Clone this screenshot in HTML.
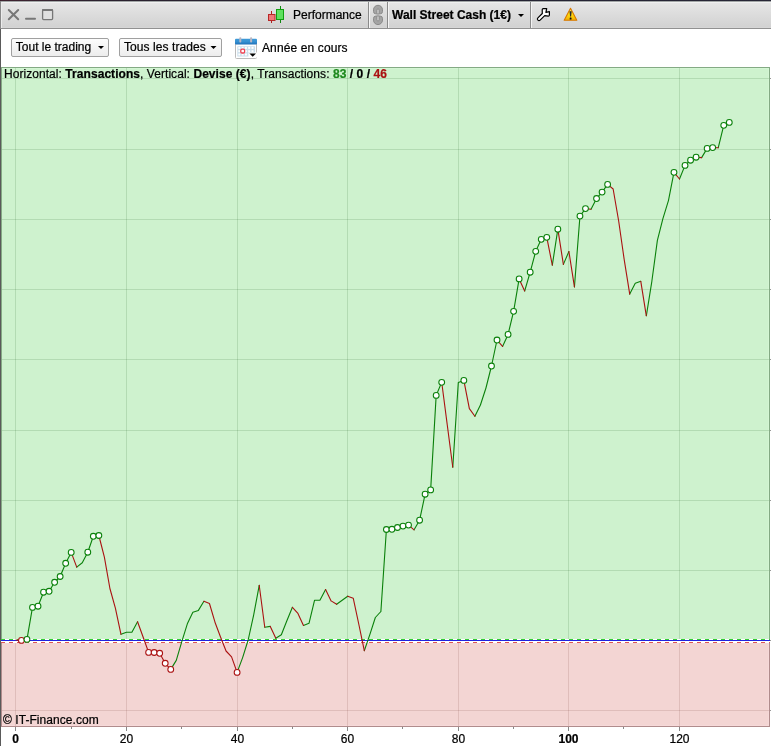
<!DOCTYPE html>
<html><head><meta charset="utf-8"><style>
html,body{margin:0;padding:0;}
body{width:771px;height:746px;overflow:hidden;background:#fff;position:relative;font-family:"Liberation Sans",Arial,sans-serif;}
svg{position:absolute;left:0;top:0;}
text{font-family:"Liberation Sans",Arial,sans-serif;fill:#000;stroke:#000;stroke-width:0.22px;}
</style></head><body>
<svg width="771" height="746" viewBox="0 0 771 746">
<defs>
<linearGradient id="tb" x1="0" y1="0" x2="0" y2="1">
<stop offset="0" stop-color="#e8e8e8"/><stop offset="1" stop-color="#d0d0d0"/>
</linearGradient>
<linearGradient id="topline" x1="0" y1="0" x2="771" y2="0" gradientUnits="userSpaceOnUse">
<stop offset="0" stop-color="#402330"/><stop offset="0.13" stop-color="#2a212e"/><stop offset="0.5" stop-color="#232130"/><stop offset="1" stop-color="#272636"/>
</linearGradient>
<linearGradient id="warn" x1="0" y1="0" x2="0" y2="1">
<stop offset="0" stop-color="#ffe070"/><stop offset="0.45" stop-color="#ffe010"/><stop offset="1" stop-color="#f2b000"/>
</linearGradient>
<linearGradient id="calhead" x1="0" y1="0" x2="0" y2="1">
<stop offset="0" stop-color="#3f9ad8"/><stop offset="0.5" stop-color="#3590d2"/><stop offset="1" stop-color="#1f6fb6"/>
</linearGradient>
<linearGradient id="btn" x1="0" y1="0" x2="0" y2="1">
<stop offset="0" stop-color="#fdfdfd"/><stop offset="1" stop-color="#ececec"/>
</linearGradient>
</defs>
<!-- title bar -->
<rect x="0" y="0" width="771" height="29" fill="url(#tb)"/>
<rect x="0" y="0" width="771" height="1" fill="url(#topline)"/>
<rect x="0" y="1" width="771" height="1" fill="#a2a6a6"/>
<rect x="1" y="2" width="770" height="1" fill="#f0f0f0"/>
<rect x="0" y="27" width="771" height="1" fill="#d6d6d6"/><rect x="0" y="28" width="771" height="1" fill="#919191"/>
<!-- window controls -->
<g stroke="#777" stroke-width="2" fill="none" stroke-linecap="round">
<path d="M8.8 10L18.2 19.2M18.2 10L8.8 19.2"/>
<path d="M26 18.7H35"/>
</g>
<rect x="42.6" y="9.6" width="10" height="10" rx="1" fill="#e0e0e0" stroke="#777" stroke-width="1.3"/>
<rect x="42" y="9" width="11" height="2" rx="0.8" fill="#777"/>
<!-- candles -->
<g>
<rect x="271" y="11" width="1" height="12" fill="#b02020"/>
<rect x="268.5" y="14.5" width="6.5" height="6" fill="#f07878" stroke="#b82828"/>
<rect x="280" y="6" width="1" height="17" fill="#108810"/>
<rect x="276.5" y="9.5" width="7" height="10" fill="#5ee05e" stroke="#10a010"/>
</g>
<text x="293" y="19" font-size="12">Performance</text>
<!-- separators -->
<rect x="368" y="2" width="1" height="26" fill="#8a8a8a"/><rect x="369" y="2" width="1" height="26" fill="#f4f4f4"/>
<rect x="387" y="2" width="1" height="26" fill="#8a8a8a"/><rect x="388" y="2" width="1" height="26" fill="#f4f4f4"/>
<rect x="530" y="2" width="1" height="26" fill="#8a8a8a"/><rect x="531" y="2" width="1" height="26" fill="#f4f4f4"/>
<!-- link icon -->
<g stroke="#8a8a8a" stroke-width="1" fill="#a4a4a4">
<path d="M373.5 11.5V9.8a4.5 4.5 0 0 1 9 0V11.5a2.3 2.3 0 0 1 -2.3 2.3H375.8a2.3 2.3 0 0 1 -2.3 -2.3Z"/>
<path d="M373.5 18.4V20.1a4.5 4.5 0 0 0 9 0V18.4a2.3 2.3 0 0 0 -2.3 -2.3H375.8a2.3 2.3 0 0 0 -2.3 2.3Z"/>
</g>
<g stroke="#8c8c8c" stroke-width="0.9" fill="#c6c6c6">
<path d="M376.7 13.9V10.2a1.3 1.3 0 0 1 2.6 0V13.9Z"/>
<path d="M376.7 16V19.7a1.3 1.3 0 0 0 2.6 0V16Z"/>
</g>
<text x="392" y="19" font-size="12" font-weight="bold">Wall Street Cash (1€)</text>
<path d="M518 14h6l-3 3z" fill="#000"/>
<!-- wrench -->
<path d="M537.9 17.9L542.3 13.5L542.2 9.7Q542.2 8.6 543.3 8.6L546.7 8.6L545.9 12.3L549.4 11.6L549.4 15.1Q549.4 16.2 548.3 16.2L544.7 15.6L540.1 20.1A1.55 1.55 0 0 1 537.9 17.9Z" fill="#fff" stroke="#000" stroke-width="1.2" stroke-linejoin="round"/>
<!-- warning -->
<path d="M570.5 8.2L576.8 20.3H564.2Z" fill="url(#warn)" stroke="#d87800" stroke-width="1.1" stroke-linejoin="round"/>
<path d="M569.5 11.2H571.7L571.1 16.4H570.1Z" fill="#2a2a2a"/>
<rect x="569.7" y="17.6" width="1.8" height="2" rx="0.4" fill="#111"/>
<!-- toolbar -->
<rect x="11.5" y="38.5" width="97" height="18" rx="1.5" fill="url(#btn)" stroke="#a0a0a0"/>
<text x="15.8" y="51" font-size="12">Tout le trading</text>
<path d="M98 46h6l-3 3z" fill="#000"/>
<rect x="119.5" y="38.5" width="102" height="18" rx="1.5" fill="url(#btn)" stroke="#a0a0a0"/>
<text x="124" y="51" font-size="12" letter-spacing="0.08">Tous les trades</text>
<path d="M210.5 46h6l-3 3z" fill="#000"/>
<!-- calendar -->
<g>
<rect x="235.5" y="42.5" width="21" height="16" rx="1" fill="#fff" stroke="#bcbcbc"/>
<rect x="235" y="38.8" width="22" height="5.8" rx="1" fill="url(#calhead)"/>
<rect x="237.3" y="46.2" width="17.8" height="10.2" rx="0.5" fill="#cadeeb"/>
<g fill="#fff">
<rect x="238.3" y="46.9" width="2" height="2"/><rect x="241.6" y="46.9" width="2" height="2"/><rect x="244.9" y="46.9" width="2" height="2"/><rect x="248.2" y="46.9" width="2" height="2"/><rect x="251.5" y="46.9" width="2" height="2"/><rect x="238.3" y="50.2" width="2" height="2"/><rect x="241.6" y="50.2" width="2" height="2"/><rect x="244.9" y="50.2" width="2" height="2"/><rect x="248.2" y="50.2" width="2" height="2"/><rect x="251.5" y="50.2" width="2" height="2"/><rect x="238.3" y="53.5" width="2" height="2"/><rect x="241.6" y="53.5" width="2" height="2"/><rect x="244.9" y="53.5" width="2" height="2"/>
</g>
<rect x="240.8" y="49.2" width="3.8" height="3.8" rx="1.3" fill="#fff" stroke="#f04050" stroke-width="1.3"/>
<rect x="239.3" y="37.3" width="2" height="5.2" rx="0.8" fill="#bab6c2"/><rect x="250.1" y="37.3" width="2" height="5.2" rx="0.8" fill="#bab6c2"/>
<path d="M248.4 52.5H257V57.5H248.4Z" fill="#fff"/>
<path d="M249.4 53.5h6.6l-3.3 3.3z" fill="#000"/>
</g>
<text x="262" y="52" font-size="12" letter-spacing="0.12">Année en cours</text>
<!-- left window border -->
<rect x="0" y="1" width="1" height="28" fill="#8a8a8a"/><rect x="1" y="2" width="1" height="26" fill="#ececec"/>
<rect x="0" y="29" width="1" height="717" fill="#5a5a5a"/>
<rect x="1" y="67" width="769" height="573" fill="#cef2ce"/>
<rect x="1" y="639" width="769" height="4" fill="#fff"/>
<rect x="1" y="643" width="769" height="84" fill="#f3d5d3"/>
<rect x="768" y="68" width="1" height="571" fill="#d4f6d4"/>
<rect x="2" y="68" width="767" height="1" fill="#d4f6d4"/>
<rect x="768" y="643" width="1" height="83" fill="#f6d9d9"/>
<rect x="2" y="725" width="767" height="1" fill="#f6d9d9"/>
<rect x="15" y="68" width="1" height="571" fill="rgba(30,85,30,0.15)"/>
<rect x="15" y="643" width="1" height="83" fill="rgba(90,30,20,0.13)"/>
<rect x="126" y="68" width="1" height="571" fill="rgba(30,85,30,0.15)"/>
<rect x="126" y="643" width="1" height="83" fill="rgba(90,30,20,0.13)"/>
<rect x="237" y="68" width="1" height="571" fill="rgba(30,85,30,0.15)"/>
<rect x="237" y="643" width="1" height="83" fill="rgba(90,30,20,0.13)"/>
<rect x="347" y="68" width="1" height="571" fill="rgba(30,85,30,0.15)"/>
<rect x="347" y="643" width="1" height="83" fill="rgba(90,30,20,0.13)"/>
<rect x="458" y="68" width="1" height="571" fill="rgba(30,85,30,0.15)"/>
<rect x="458" y="643" width="1" height="83" fill="rgba(90,30,20,0.13)"/>
<rect x="568" y="68" width="1" height="571" fill="rgba(30,85,30,0.15)"/>
<rect x="568" y="643" width="1" height="83" fill="rgba(90,30,20,0.13)"/>
<rect x="679" y="68" width="1" height="571" fill="rgba(30,85,30,0.15)"/>
<rect x="679" y="643" width="1" height="83" fill="rgba(90,30,20,0.13)"/>
<rect x="2" y="78" width="767" height="1" fill="rgba(30,85,30,0.15)"/>
<rect x="770" y="78" width="1" height="1" fill="#999"/>
<rect x="2" y="149" width="767" height="1" fill="rgba(30,85,30,0.15)"/>
<rect x="770" y="149" width="1" height="1" fill="#999"/>
<rect x="2" y="219" width="767" height="1" fill="rgba(30,85,30,0.15)"/>
<rect x="770" y="219" width="1" height="1" fill="#999"/>
<rect x="2" y="289" width="767" height="1" fill="rgba(30,85,30,0.15)"/>
<rect x="770" y="289" width="1" height="1" fill="#999"/>
<rect x="2" y="359" width="767" height="1" fill="rgba(30,85,30,0.15)"/>
<rect x="770" y="359" width="1" height="1" fill="#999"/>
<rect x="2" y="430" width="767" height="1" fill="rgba(30,85,30,0.15)"/>
<rect x="770" y="430" width="1" height="1" fill="#999"/>
<rect x="2" y="500" width="767" height="1" fill="rgba(30,85,30,0.15)"/>
<rect x="770" y="500" width="1" height="1" fill="#999"/>
<rect x="2" y="570" width="767" height="1" fill="rgba(30,85,30,0.15)"/>
<rect x="770" y="570" width="1" height="1" fill="#999"/>
<rect x="2" y="710" width="767" height="1" fill="rgba(90,30,20,0.13)"/>
<rect x="770" y="710" width="1" height="1" fill="#999"/>
<rect x="770" y="640" width="1" height="1" fill="#999"/>
<rect x="1" y="67" width="769" height="1" fill="#84aa84"/>
<rect x="1" y="67" width="1" height="572" fill="#84aa84"/>
<rect x="769" y="67" width="1" height="572" fill="#84aa84"/>
<rect x="1" y="643" width="1" height="84" fill="#b08c8c"/>
<rect x="769" y="643" width="1" height="84" fill="#b08c8c"/>
<rect x="1" y="726" width="769" height="1" fill="#b08c8c"/>
<rect x="1" y="639" width="1" height="4" fill="#fff"/>
<rect x="769" y="639" width="1" height="4" fill="#fff"/>
<line x1="1" y1="639.5" x2="770" y2="639.5" stroke="#33cc33" stroke-width="1" stroke-dasharray="4 4"/>
<rect x="1" y="640" width="769" height="1" fill="#2222dd"/>
<line x1="1" y1="642.5" x2="770" y2="642.5" stroke="#dd5555" stroke-width="1" stroke-dasharray="4 4"/>
<rect x="15" y="727" width="1" height="4" fill="#888"/>
<rect x="126" y="727" width="1" height="4" fill="#888"/>
<rect x="237" y="727" width="1" height="4" fill="#888"/>
<rect x="347" y="727" width="1" height="4" fill="#888"/>
<rect x="458" y="727" width="1" height="4" fill="#888"/>
<rect x="568" y="727" width="1" height="4" fill="#888"/>
<rect x="679" y="727" width="1" height="4" fill="#888"/>
<rect x="71" y="727" width="1" height="2" fill="#888"/>
<rect x="181" y="727" width="1" height="2" fill="#888"/>
<rect x="292" y="727" width="1" height="2" fill="#888"/>
<rect x="402" y="727" width="1" height="2" fill="#888"/>
<rect x="513" y="727" width="1" height="2" fill="#888"/>
<rect x="623" y="727" width="1" height="2" fill="#888"/>
<path d="M21.43 640.40L26.96 639.40M26.96 639.40L32.49 607.40M32.49 607.40L38.02 606.20M38.02 606.20L43.55 592.20M43.55 592.20L49.08 591.30M49.08 591.30L54.61 582.30M54.61 582.30L60.14 576.50M60.14 576.50L65.67 563.30M65.67 563.30L71.20 552.40M76.73 567.10L82.26 562.80M82.26 562.80L87.79 552.20M87.79 552.20L93.32 536.30M93.32 536.30L98.85 535.50M120.97 634.30L126.50 632.30M126.50 632.30L132.03 632.10M132.03 632.10L137.56 621.80M170.74 669.40L176.27 660.40M176.27 660.40L181.80 641.60M181.80 641.60L187.33 623.80M187.33 623.80L192.86 612.30M192.86 612.30L198.39 610.40M198.39 610.40L203.92 601.30M237.10 672.40L242.63 657.60M242.63 657.60L248.16 640.00M248.16 640.00L253.69 614.80M253.69 614.80L259.22 585.30M264.75 627.20L270.28 626.40M275.81 638.30L281.34 634.70M281.34 634.70L286.87 620.80M286.87 620.80L292.40 607.30M303.46 625.40L308.99 623.30M308.99 623.30L314.52 600.30M314.52 600.30L320.05 600.10M320.05 600.10L325.58 589.50M336.64 604.30L342.17 600.30M342.17 600.30L347.70 596.20M364.29 650.70L369.82 634.60M369.82 634.60L375.35 617.50M375.35 617.50L380.88 611.50M380.88 611.50L386.41 529.50M386.41 529.50L391.94 529.30M391.94 529.30L397.47 527.50M397.47 527.50L403.00 526.10M403.00 526.10L408.53 525.10M414.06 529.80L419.59 520.20M419.59 520.20L425.12 494.20M425.12 494.20L430.65 489.90M430.65 489.90L436.18 395.40M436.18 395.40L441.71 382.30M452.77 467.20L458.30 382.50M458.30 382.50L463.83 380.40M474.89 416.30L480.42 405.00M480.42 405.00L485.95 388.00M485.95 388.00L491.48 366.00M491.48 366.00L497.01 340.00M502.54 346.40L508.07 334.40M508.07 334.40L513.60 311.30M513.60 311.30L519.13 278.90M524.66 291.00L530.19 272.20M530.19 272.20L535.72 251.30M535.72 251.30L541.25 239.30M541.25 239.30L546.78 237.30M552.31 265.20L557.84 229.20M563.37 264.40L568.90 251.50M574.43 286.90L579.96 216.10M579.96 216.10L585.49 208.60M591.02 209.30L596.55 198.50M596.55 198.50L602.08 192.10M602.08 192.10L607.61 184.40M629.73 294.10L635.26 283.30M635.26 283.30L640.79 281.30M646.32 315.80L651.85 281.30M651.85 281.30L657.38 240.40M657.38 240.40L662.91 218.70M662.91 218.70L668.44 200.60M668.44 200.60L673.97 172.30M679.50 179.00L685.03 165.40M685.03 165.40L690.56 160.20M690.56 160.20L696.09 157.20M701.62 157.60L707.15 148.40M707.15 148.40L712.68 147.60M718.21 147.80L723.74 125.30M723.74 125.30L729.27 122.40" stroke="#0a800a" stroke-width="1.1" fill="none" stroke-linecap="round"/>
<path d="M15.90 640.00L21.43 640.40M71.20 552.40L76.73 567.10M98.85 535.50L104.38 557.20M104.38 557.20L109.91 588.50M109.91 588.50L115.44 608.30M115.44 608.30L120.97 634.30M137.56 621.80L143.09 637.00M143.09 637.00L148.62 652.40M148.62 652.40L154.15 652.50M154.15 652.50L159.68 653.30M159.68 653.30L165.21 663.30M165.21 663.30L170.74 669.40M203.92 601.30L209.45 603.50M209.45 603.50L214.98 622.20M214.98 622.20L220.51 637.00M220.51 637.00L226.04 651.00M226.04 651.00L231.57 656.90M231.57 656.90L237.10 672.40M259.22 585.30L264.75 627.20M270.28 626.40L275.81 638.30M292.40 607.30L297.93 613.40M297.93 613.40L303.46 625.40M325.58 589.50L331.11 600.90M331.11 600.90L336.64 604.30M347.70 596.20L353.23 598.20M353.23 598.20L358.76 624.00M358.76 624.00L364.29 650.70M408.53 525.10L414.06 529.80M441.71 382.30L447.24 424.80M447.24 424.80L452.77 467.20M463.83 380.40L469.36 408.60M469.36 408.60L474.89 416.30M497.01 340.00L502.54 346.40M519.13 278.90L524.66 291.00M546.78 237.30L552.31 265.20M557.84 229.20L563.37 264.40M568.90 251.50L574.43 286.90M585.49 208.60L591.02 209.30M607.61 184.40L613.14 189.00M613.14 189.00L618.67 221.00M618.67 221.00L624.20 259.60M624.20 259.60L629.73 294.10M640.79 281.30L646.32 315.80M673.97 172.30L679.50 179.00M696.09 157.20L701.62 157.60M712.68 147.60L718.21 147.80" stroke="#aa1111" stroke-width="1.1" fill="none" stroke-linecap="round"/>
<circle cx="21.43" cy="640.40" r="2.9" fill="#fff" stroke="#aa1111" stroke-width="1.05"/>
<circle cx="26.96" cy="639.40" r="2.9" fill="#fff" stroke="#0a800a" stroke-width="1.05"/>
<circle cx="32.49" cy="607.40" r="2.9" fill="#fff" stroke="#0a800a" stroke-width="1.05"/>
<circle cx="38.02" cy="606.20" r="2.9" fill="#fff" stroke="#0a800a" stroke-width="1.05"/>
<circle cx="43.55" cy="592.20" r="2.9" fill="#fff" stroke="#0a800a" stroke-width="1.05"/>
<circle cx="49.08" cy="591.30" r="2.9" fill="#fff" stroke="#0a800a" stroke-width="1.05"/>
<circle cx="54.61" cy="582.30" r="2.9" fill="#fff" stroke="#0a800a" stroke-width="1.05"/>
<circle cx="60.14" cy="576.50" r="2.9" fill="#fff" stroke="#0a800a" stroke-width="1.05"/>
<circle cx="65.67" cy="563.30" r="2.9" fill="#fff" stroke="#0a800a" stroke-width="1.05"/>
<circle cx="71.20" cy="552.40" r="2.9" fill="#fff" stroke="#0a800a" stroke-width="1.05"/>
<circle cx="87.79" cy="552.20" r="2.9" fill="#fff" stroke="#0a800a" stroke-width="1.05"/>
<circle cx="93.32" cy="536.30" r="2.9" fill="#fff" stroke="#0a800a" stroke-width="1.05"/>
<circle cx="98.85" cy="535.50" r="2.9" fill="#fff" stroke="#0a800a" stroke-width="1.05"/>
<circle cx="148.62" cy="652.40" r="2.9" fill="#fff" stroke="#aa1111" stroke-width="1.05"/>
<circle cx="154.15" cy="652.50" r="2.9" fill="#fff" stroke="#aa1111" stroke-width="1.05"/>
<circle cx="159.68" cy="653.30" r="2.9" fill="#fff" stroke="#aa1111" stroke-width="1.05"/>
<circle cx="165.21" cy="663.30" r="2.9" fill="#fff" stroke="#aa1111" stroke-width="1.05"/>
<circle cx="170.74" cy="669.40" r="2.9" fill="#fff" stroke="#aa1111" stroke-width="1.05"/>
<circle cx="237.10" cy="672.40" r="2.9" fill="#fff" stroke="#aa1111" stroke-width="1.05"/>
<circle cx="386.41" cy="529.50" r="2.9" fill="#fff" stroke="#0a800a" stroke-width="1.05"/>
<circle cx="391.94" cy="529.30" r="2.9" fill="#fff" stroke="#0a800a" stroke-width="1.05"/>
<circle cx="397.47" cy="527.50" r="2.9" fill="#fff" stroke="#0a800a" stroke-width="1.05"/>
<circle cx="403.00" cy="526.10" r="2.9" fill="#fff" stroke="#0a800a" stroke-width="1.05"/>
<circle cx="408.53" cy="525.10" r="2.9" fill="#fff" stroke="#0a800a" stroke-width="1.05"/>
<circle cx="419.59" cy="520.20" r="2.9" fill="#fff" stroke="#0a800a" stroke-width="1.05"/>
<circle cx="425.12" cy="494.20" r="2.9" fill="#fff" stroke="#0a800a" stroke-width="1.05"/>
<circle cx="430.65" cy="489.90" r="2.9" fill="#fff" stroke="#0a800a" stroke-width="1.05"/>
<circle cx="436.18" cy="395.40" r="2.9" fill="#fff" stroke="#0a800a" stroke-width="1.05"/>
<circle cx="441.71" cy="382.30" r="2.9" fill="#fff" stroke="#0a800a" stroke-width="1.05"/>
<circle cx="463.83" cy="380.40" r="2.9" fill="#fff" stroke="#0a800a" stroke-width="1.05"/>
<circle cx="491.48" cy="366.00" r="2.9" fill="#fff" stroke="#0a800a" stroke-width="1.05"/>
<circle cx="497.01" cy="340.00" r="2.9" fill="#fff" stroke="#0a800a" stroke-width="1.05"/>
<circle cx="508.07" cy="334.40" r="2.9" fill="#fff" stroke="#0a800a" stroke-width="1.05"/>
<circle cx="513.60" cy="311.30" r="2.9" fill="#fff" stroke="#0a800a" stroke-width="1.05"/>
<circle cx="519.13" cy="278.90" r="2.9" fill="#fff" stroke="#0a800a" stroke-width="1.05"/>
<circle cx="530.19" cy="272.20" r="2.9" fill="#fff" stroke="#0a800a" stroke-width="1.05"/>
<circle cx="535.72" cy="251.30" r="2.9" fill="#fff" stroke="#0a800a" stroke-width="1.05"/>
<circle cx="541.25" cy="239.30" r="2.9" fill="#fff" stroke="#0a800a" stroke-width="1.05"/>
<circle cx="546.78" cy="237.30" r="2.9" fill="#fff" stroke="#0a800a" stroke-width="1.05"/>
<circle cx="557.84" cy="229.20" r="2.9" fill="#fff" stroke="#0a800a" stroke-width="1.05"/>
<circle cx="579.96" cy="216.10" r="2.9" fill="#fff" stroke="#0a800a" stroke-width="1.05"/>
<circle cx="585.49" cy="208.60" r="2.9" fill="#fff" stroke="#0a800a" stroke-width="1.05"/>
<circle cx="596.55" cy="198.50" r="2.9" fill="#fff" stroke="#0a800a" stroke-width="1.05"/>
<circle cx="602.08" cy="192.10" r="2.9" fill="#fff" stroke="#0a800a" stroke-width="1.05"/>
<circle cx="607.61" cy="184.40" r="2.9" fill="#fff" stroke="#0a800a" stroke-width="1.05"/>
<circle cx="673.97" cy="172.30" r="2.9" fill="#fff" stroke="#0a800a" stroke-width="1.05"/>
<circle cx="685.03" cy="165.40" r="2.9" fill="#fff" stroke="#0a800a" stroke-width="1.05"/>
<circle cx="690.56" cy="160.20" r="2.9" fill="#fff" stroke="#0a800a" stroke-width="1.05"/>
<circle cx="696.09" cy="157.20" r="2.9" fill="#fff" stroke="#0a800a" stroke-width="1.05"/>
<circle cx="707.15" cy="148.40" r="2.9" fill="#fff" stroke="#0a800a" stroke-width="1.05"/>
<circle cx="712.68" cy="147.60" r="2.9" fill="#fff" stroke="#0a800a" stroke-width="1.05"/>
<circle cx="723.74" cy="125.30" r="2.9" fill="#fff" stroke="#0a800a" stroke-width="1.05"/>
<circle cx="729.27" cy="122.40" r="2.9" fill="#fff" stroke="#0a800a" stroke-width="1.05"/>
<text x="15.5" y="743" text-anchor="middle" font-size="12" font-weight="bold">0</text>
<text x="126.5" y="743" text-anchor="middle" font-size="12">20</text>
<text x="237.5" y="743" text-anchor="middle" font-size="12">40</text>
<text x="347.5" y="743" text-anchor="middle" font-size="12">60</text>
<text x="458.5" y="743" text-anchor="middle" font-size="12">80</text>
<text x="568.5" y="743" text-anchor="middle" font-size="12" font-weight="bold">100</text>
<text x="679.5" y="743" text-anchor="middle" font-size="12">120</text>
<text x="4" y="78" font-size="12" letter-spacing="0.055">Horizontal: <tspan font-weight="bold">Transactions</tspan>, Vertical: <tspan font-weight="bold">Devise (€)</tspan>, Transactions: <tspan font-weight="bold" fill="#1d881d" stroke="#1d881d">83</tspan><tspan font-weight="bold"> / 0 / </tspan><tspan font-weight="bold" fill="#aa1111" stroke="#aa1111">46</tspan></text>
<text x="3" y="724" font-size="12" letter-spacing="0.06">© IT-Finance.com</text>
</svg>
</body></html>
